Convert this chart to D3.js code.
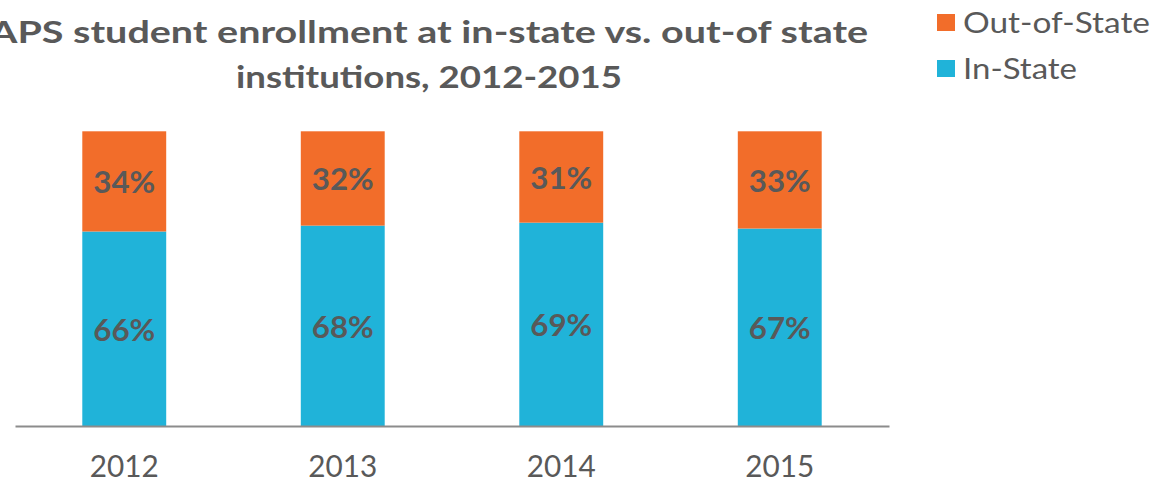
<!DOCTYPE html>
<html>
<head>
<meta charset="utf-8">
<script src="https://cdn.jsdelivr.net/npm/d3@7"></script>
<style>
  body { margin: 0; background: #fff; }
  svg { display: block; font-family: "Century Gothic", "Lato", "DejaVu Sans", sans-serif; }
</style>
</head>
<body>
<script>
var years = ["2012", "2013", "2014", "2015"];
var inState = [66, 68, 69, 67];
var outOfState = [34, 32, 31, 33];
var seriesNames = ["In-State", "Out-of-State"];
var titleLines = ["APS student enrollment at in-state vs. out-of state", "institutions, 2012-2015"];

var width = 1154, height = 483;
var colors = { "In-State": "#20B3D9", "Out-of-State": "#F26D2A" };
var textColor = "#595959";

var svg = d3.select("body").append("svg").attr("width", width).attr("height", height);

var rows = years.map(function(y, i) {
    return { year: y, "In-State": inState[i], "Out-of-State": outOfState[i] };
});
var stack = d3.stack().keys(seriesNames)(rows);

var x = d3.scaleBand().domain(years).range([15, 889]).paddingInner(0.616).paddingOuter(0.308);
var y = d3.scaleLinear().domain([0, 100]).range([426, 131.3]);

// bars
var layers = svg.selectAll("g.layer").data(stack).enter().append("g")
    .attr("class", "layer")
    .attr("fill", function(d) { return colors[d.key]; });

layers.selectAll("rect").data(function(d) { return d; }).enter().append("rect")
    .attr("x", function(d) { return x(d.data.year); })
    .attr("width", x.bandwidth())
    .attr("y", function(d) { return y(d[1]); })
    .attr("height", function(d) { return y(d[0]) - y(d[1]); });

// value labels
layers.selectAll("text").data(function(d) { return d; }).enter().append("text")
    .attr("x", function(d) { return x(d.data.year) + x.bandwidth() / 2; })
    .attr("y", function(d) { return (y(d[0]) + y(d[1])) / 2 + 12; })
    .attr("text-anchor", "middle")
    .attr("fill", textColor)
    .style("font-size", "31px")
    .style("font-weight", "bold")
    .attr("textLength", 62)
    .attr("lengthAdjust", "spacingAndGlyphs")
    .text(function(d) { return (d[1] - d[0]) + "%"; });

// x axis
var xAxis = d3.axisBottom(x).tickSize(0).tickPadding(29);
var gx = svg.append("g").attr("transform", "translate(0,426)").call(xAxis);
gx.select(".domain").attr("stroke", "#8c8c8c").attr("stroke-width", 2);
gx.selectAll("text")
    .attr("fill", textColor)
    .style("font-size", "31px")
    .style("font-family", "\"Century Gothic\", \"Lato\", sans-serif")
    .attr("textLength", 69)
    .attr("lengthAdjust", "spacingAndGlyphs");

// title
svg.append("g").selectAll("text").data(titleLines).enter().append("text")
    .attr("x", 429)
    .attr("y", function(d, i) { return 43 + i * 45; })
    .attr("text-anchor", "middle")
    .attr("fill", textColor)
    .style("font-size", "31px")
    .style("font-weight", "bold")
    .attr("textLength", function(d, i) { return i == 0 ? 878 : 386; })
    .attr("lengthAdjust", "spacingAndGlyphs")
    .text(function(d) { return d; });

// legend
var legendKeys = ["Out-of-State", "In-State"];
var legendWidths = [187, 114];
var legend = svg.append("g").selectAll("g").data(legendKeys).enter().append("g")
    .attr("transform", function(d, i) { return "translate(937," + (14 + i * 46) + ")"; });
legend.append("rect")
    .attr("width", 18).attr("height", 17)
    .attr("fill", function(d) { return colors[d]; });
legend.append("text")
    .attr("x", 26).attr("y", 19)
    .attr("fill", textColor)
    .style("font-size", "29px")
    .attr("textLength", function(d, i) { return legendWidths[i]; })
    .attr("lengthAdjust", "spacingAndGlyphs")
    .text(function(d) { return d; });
</script>
</body>
</html>
